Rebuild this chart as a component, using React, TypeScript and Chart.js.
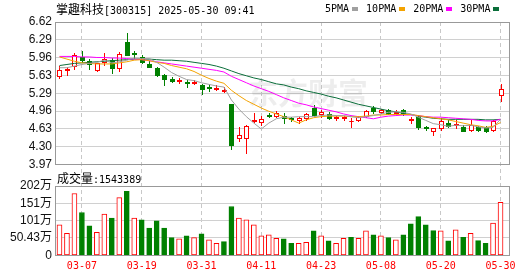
import React, { useEffect, useRef } from "react";
import { Chart, registerables } from "chart.js";

Chart.register(...registerables);

const dates = [
  "03-04", "03-05", "03-06", "03-07", "03-10", "03-11", "03-12", "03-13", "03-14", "03-17",
  "03-18", "03-19", "03-20", "03-21", "03-24", "03-25", "03-26", "03-27", "03-28", "03-31",
  "04-01", "04-02", "04-03", "04-07", "04-08", "04-09", "04-10", "04-11", "04-14", "04-15",
  "04-16", "04-17", "04-18", "04-21", "04-22", "04-23", "04-24", "04-25", "04-28", "04-29",
  "04-30", "05-06", "05-07", "05-08", "05-09", "05-12", "05-13", "05-14", "05-15", "05-16",
  "05-19", "05-20", "05-21", "05-22", "05-23", "05-26", "05-27", "05-28", "05-29", "05-30",
];

const openPrices = [
  5.61, 5.72, 5.80, 5.97, 5.90, 5.73, 5.88, 5.91, 5.77, 6.25,
  6.04, 5.97, 5.84, 5.76, 5.64, 5.56, 5.53, 5.51, 5.49, 5.45,
  5.41, 5.38, 5.33, 5.10, 4.46, 4.46, 4.78, 4.76, 4.89, 4.87,
  4.88, 4.83, 4.80, 4.84, 5.03, 4.90, 4.91, 4.83, 4.83, 4.77,
  4.80, 4.87, 5.03, 4.95, 4.98, 4.92, 4.99, 4.79, 4.86, 4.66,
  4.60, 4.64, 4.75, 4.70, 4.67, 4.61, 4.66, 4.66, 4.61, 5.27,
];
const highPrices = [
  5.80, 5.78, 6.05, 6.09, 5.93, 5.86, 6.04, 5.95, 6.07, 6.42,
  6.08, 6.00, 5.89, 5.78, 5.65, 5.59, 5.58, 5.54, 5.54, 5.46,
  5.44, 5.44, 5.41, 5.10, 4.67, 4.70, 4.93, 4.88, 4.92, 4.96,
  4.92, 4.86, 4.86, 4.92, 5.08, 4.98, 4.94, 4.87, 4.88, 4.83,
  4.88, 4.99, 5.06, 5.01, 5.00, 4.98, 5.01, 4.86, 4.89, 4.69,
  4.65, 4.83, 4.80, 4.80, 4.70, 4.79, 4.68, 4.68, 4.80, 5.46,
];
const lowPrices = [
  5.57, 5.64, 5.75, 5.88, 5.75, 5.70, 5.82, 5.68, 5.71, 6.00,
  5.95, 5.86, 5.78, 5.62, 5.44, 5.50, 5.49, 5.41, 5.47, 5.29,
  5.34, 5.35, 5.31, 4.26, 4.40, 4.19, 4.76, 4.71, 4.86, 4.86,
  4.75, 4.77, 4.74, 4.80, 4.88, 4.86, 4.81, 4.80, 4.80, 4.66,
  4.77, 4.86, 4.92, 4.92, 4.90, 4.89, 4.89, 4.74, 4.63, 4.62,
  4.52, 4.61, 4.66, 4.64, 4.59, 4.60, 4.60, 4.58, 4.60, 5.16,
];
const closePrices = [
  5.73, 5.74, 6.00, 5.92, 5.84, 5.85, 5.93, 5.77, 6.02, 6.01,
  6.02, 5.88, 5.78, 5.64, 5.56, 5.53, 5.55, 5.49, 5.51, 5.38,
  5.39, 5.40, 5.36, 4.34, 4.51, 4.69, 4.80, 4.81, 4.88, 4.92,
  4.84, 4.81, 4.84, 4.90, 4.89, 4.95, 4.84, 4.85, 4.86, 4.78,
  4.85, 4.97, 4.96, 4.98, 4.91, 4.95, 4.91, 4.81, 4.66, 4.65,
  4.64, 4.78, 4.69, 4.72, 4.60, 4.70, 4.62, 4.60, 4.78, 5.37,
];

const ma5 = [
  5.77, 5.77, 5.80, 5.83, 5.85, 5.87, 5.91, 5.86, 5.88, 5.91,
  5.95, 5.94, 5.94, 5.87, 5.78, 5.68, 5.61, 5.55, 5.53, 5.49,
  5.46, 5.43, 5.41, 5.17, 5.00, 4.86, 4.74, 4.63, 4.74, 4.82,
  4.85, 4.85, 4.86, 4.86, 4.86, 4.88, 4.89, 4.88, 4.88, 4.86,
  4.84, 4.86, 4.88, 4.91, 4.94, 4.95, 4.94, 4.91, 4.85, 4.79,
  4.73, 4.71, 4.68, 4.70, 4.69, 4.70, 4.67, 4.65, 4.66, 4.81,
];
const ma10 = [
  5.97, 5.93, 5.89, 5.86, 5.85, 5.84, 5.84, 5.84, 5.86, 5.88,
  5.91, 5.92, 5.90, 5.87, 5.85, 5.81, 5.78, 5.75, 5.70, 5.63,
  5.57, 5.52, 5.48, 5.35, 5.25, 5.16, 5.09, 5.02, 4.96, 4.91,
  4.86, 4.80, 4.74, 4.80, 4.84, 4.86, 4.87, 4.87, 4.87, 4.86,
  4.86, 4.87, 4.89, 4.89, 4.90, 4.90, 4.90, 4.90, 4.88, 4.86,
  4.84, 4.82, 4.80, 4.77, 4.74, 4.71, 4.69, 4.66, 4.68, 4.75,
];
const ma20 = [
  5.98, 5.98, 5.98, 5.97, 5.97, 5.96, 5.96, 5.95, 5.95, 5.94,
  5.93, 5.92, 5.90, 5.88, 5.86, 5.84, 5.82, 5.80, 5.78, 5.76,
  5.74, 5.72, 5.69, 5.61, 5.55, 5.49, 5.43, 5.38, 5.33, 5.27,
  5.21, 5.16, 5.11, 5.08, 5.04, 5.01, 4.98, 4.95, 4.91, 4.88,
  4.86, 4.84, 4.82, 4.85, 4.87, 4.88, 4.89, 4.89, 4.88, 4.86,
  4.85, 4.85, 4.84, 4.83, 4.82, 4.81, 4.79, 4.78, 4.78, 4.81,
];
const ma30 = [
  5.81, 5.83, 5.85, 5.86, 5.87, 5.88, 5.89, 5.90, 5.91, 5.92,
  5.93, 5.93, 5.93, 5.92, 5.91, 5.91, 5.90, 5.89, 5.87, 5.85,
  5.83, 5.80, 5.76, 5.71, 5.66, 5.62, 5.58, 5.55, 5.51, 5.47,
  5.45, 5.41, 5.38, 5.34, 5.31, 5.28, 5.24, 5.21, 5.17, 5.13,
  5.09, 5.06, 5.03, 5.00, 4.97, 4.95, 4.92, 4.90, 4.87, 4.85,
  4.83, 4.82, 4.81, 4.81, 4.81, 4.81, 4.81, 4.80, 4.80, 4.81,
];

const volumes = [
  886000, 643000, 1800000, 1245000, 857000, 672000, 1199000, 1082000, 1680000, 1860000,
  1082000, 1032000, 789000, 1003000, 789000, 515000, 477000, 564000, 515000, 623000,
  447000, 351000, 398000, 1420000, 1082000, 1032000, 886000, 564000, 593000, 497000,
  477000, 351000, 351000, 380000, 710000, 564000, 418000, 351000, 497000, 526000,
  497000, 710000, 593000, 564000, 515000, 447000, 593000, 915000, 1128000, 886000,
  719000, 710000, 418000, 740000, 526000, 643000, 427000, 351000, 936000, 1543389,
];

const priceTickValues = [3.97, 4.30125, 4.6325, 4.96375, 5.295, 5.62625, 5.9575, 6.28875, 6.62];
const priceTickLabels = ["3.97", "4.30", "4.63", "4.96", "5.29", "5.63", "5.96", "6.29", "6.62"];
const volumeTickValues = [0, 504300, 1008600, 1512900, 2017200];
const volumeTickLabels = ["0", "50.43万", "101万", "151万", "202万"];
const dateTickIndices = [3, 11, 19, 27, 35, 43, 51, 59];

const maLabels = ["5PMA", "10PMA", "20PMA", "30PMA"];
const maColors = ["#a0a0a0", "#f4a300", "#ff00ff", "#0a6e3a"];

const RED = "#ff0000";
const GREEN = "#008000";
const MONO = '"DejaVu Sans Mono", monospace';
const CJK = '"Noto Sans CJK SC", sans-serif';
const SANS = '"Liberation Sans", "Noto Sans CJK SC", sans-serif';

export default function App() {
  const canvasRef = useRef<HTMLCanvasElement>(null);

  useEffect(() => {
    const canvas = canvasRef.current;
    if (!canvas) return;
    const n = dates.length;
    const up = closePrices.map((c, i) => c > openPrices[i]);
    const volUp = closePrices.map((c, i) => (i === 0 ? up[0] : c > closePrices[i - 1]));
    const xy = (arr: number[]) => arr.map((y, i) => ({ x: i, y }));
    const align = (v: number) => Math.round(v - 0.5) + 0.5;

    const candlePlugin = {
      id: "candles",
      beforeDatasetsDraw(chart: any) {
        const { ctx } = chart;
        const xs = chart.scales.x;
        const ys = chart.scales.y;
        ctx.save();
        ctx.fillStyle = "rgba(0,0,0,0.07)";
        ctx.font = `bold 30px ${CJK}`;
        ctx.textBaseline = "alphabetic";
        ctx.fillText("东方财富", 248, 104);
        ctx.lineWidth = 1;
        for (let i = 0; i < n; i++) {
          const cx = Math.round(xs.getPixelForValue(i));
          const yh = Math.round(ys.getPixelForValue(highPrices[i]));
          const yl = Math.round(ys.getPixelForValue(lowPrices[i]));
          const yo = Math.round(ys.getPixelForValue(openPrices[i]));
          const yc = Math.round(ys.getPixelForValue(closePrices[i]));
          const top = Math.min(yo, yc);
          const bot = Math.max(yo, yc);
          const col = up[i] ? RED : GREEN;
          ctx.strokeStyle = col;
          ctx.beginPath();
          ctx.moveTo(cx + 0.5, yh);
          ctx.lineTo(cx + 0.5, yl + 1);
          ctx.stroke();
          if (up[i]) {
            ctx.fillStyle = "#fff";
            ctx.fillRect(cx - 2, top, 5, bot - top + 1);
            ctx.strokeRect(cx - 1.5, top + 0.5, 4, bot - top);
          } else {
            ctx.fillStyle = col;
            ctx.fillRect(cx - 2, top, 5, bot - top + 1);
          }
        }
        ctx.restore();
      },
    };

    const boxPlugin = {
      id: "boxes",
      afterDatasetsDraw(chart: any) {
        const { ctx, chartArea } = chart;
        const l = align(chartArea.left);
        const r = align(chartArea.right);
        ctx.save();
        ctx.strokeStyle = "#999";
        ctx.lineWidth = 1;
        for (const id of ["y", "yv"]) {
          const s = chart.scales[id];
          const t = align(s.top);
          const b = align(s.bottom);
          ctx.strokeRect(l, t, r - l, b - t);
        }
        ctx.restore();
      },
    };

    const lineSets = [ma5, ma10, ma20, ma30].map((arr, k) => ({
      type: "line" as const,
      label: maLabels[k],
      data: xy(arr),
      yAxisID: "y",
      borderColor: maColors[k],
      borderWidth: 1,
      pointRadius: 0,
      tension: 0,
      order: 1,
    }));

    const chart = new Chart(canvas, {
      type: "bar",
      data: {
        datasets: [
          ...lineSets,
          {
            type: "bar",
            label: "成交量",
            data: xy(volumes),
            yAxisID: "yv",
            backgroundColor: volUp.map((u) => (u ? "#ffffff" : GREEN)),
            borderColor: volUp.map((u) => (u ? RED : GREEN)),
            borderWidth: 1,
            borderSkipped: false,
            barThickness: 5,
            order: 2,
          },
        ] as any,
      },
      options: {
        animation: false,
        responsive: false,
        devicePixelRatio: 1,
        events: [],
        layout: { padding: { left: 0, right: 20.5, top: 22, bottom: 0.7 } },
        plugins: { legend: { display: false }, tooltip: { enabled: false } },
        scales: {
          x: {
            type: "linear",
            position: "bottom",
            min: -0.6,
            max: 60.2,
            bounds: "data",
            offset: false,
            afterBuildTicks: (s: any) => {
              s.ticks = dateTickIndices.map((v) => ({ value: v }));
            },
            afterFit: (s: any) => {
              s.height = 20;
            },
            ticks: {
              autoSkip: false,
              maxRotation: 0,
              padding: 5,
              color: RED,
              font: { family: MONO, size: 10 },
              callback: (v: any) => dates[v as number],
            },
            grid: { offset: false, color: "#c8c8c8", lineWidth: 1, drawTicks: false },
            border: { display: false, dash: [4, 3] },
          },
          y: {
            type: "linear",
            position: "left",
            stack: "k",
            stackWeight: 142.5,
            weight: 3,
            min: 3.97,
            max: 6.62,
            bounds: "data",
            afterBuildTicks: (s: any) => {
              s.ticks = priceTickValues.map((v) => ({ value: v }));
            },
            afterFit: (s: any) => {
              s.width = 55;
            },
            ticks: {
              autoSkip: false,
              padding: 3,
              color: "#111",
              font: { family: SANS, size: 12 },
              callback: (_v: any, i: number) => priceTickLabels[i],
            },
            grid: { color: "#d0d0d0", drawTicks: false },
            border: { display: false },
          },
          yg: {
            type: "linear",
            position: "left",
            stack: "k",
            stackWeight: 21.5,
            weight: 2,
            min: 0,
            max: 1,
            afterFit: (s: any) => {
              s.width = 55;
            },
            ticks: { display: false },
            grid: { display: false, drawTicks: false },
            border: { display: false },
          },
          yv: {
            type: "linear",
            position: "left",
            stack: "k",
            stackWeight: 69.3,
            weight: 1,
            min: 0,
            max: 2017200,
            bounds: "data",
            afterBuildTicks: (s: any) => {
              s.ticks = volumeTickValues.map((v) => ({ value: v }));
            },
            afterFit: (s: any) => {
              s.width = 55;
            },
            ticks: {
              autoSkip: false,
              padding: 3,
              color: "#111",
              font: { family: SANS, size: 12 },
              callback: (_v: any, i: number) => volumeTickLabels[i],
            },
            grid: { color: "#d0d0d0", drawTicks: false },
            border: { display: false },
          },
        } as any,
      },
      plugins: [candlePlugin, boxPlugin],
    });
    return () => chart.destroy();
  }, []);

  return (
    <div
      style={{
        position: "absolute",
        left: 0,
        top: 0,
        width: 530,
        height: 276,
        overflow: "hidden",
        background: "#fff",
      }}
    >
      <canvas ref={canvasRef} width={530} height={276} style={{ display: "block" }} />
      <div
        style={{
          position: "absolute",
          left: 56,
          top: 2,
          whiteSpace: "pre",
          fontFamily: MONO,
          fontSize: 10,
          lineHeight: "14px",
          color: "#000",
        }}
      >
        <span style={{ fontFamily: CJK, fontSize: 12 }}>掌趣科技</span>
        <span>[300315] 2025-05-30 09:41</span>
      </div>
      <div
        style={{
          position: "absolute",
          left: 325,
          top: 2,
          display: "flex",
          alignItems: "flex-start",
          whiteSpace: "pre",
          fontFamily: MONO,
          fontSize: 10,
          lineHeight: "14px",
          color: "#000",
        }}
      >
        {maLabels.map((lab, k) => (
          <div key={lab} style={{ display: "flex", alignItems: "flex-start", marginRight: 8 }}>
            <span>{lab}</span>
            <span
              style={{
                display: "inline-block",
                width: 6,
                height: 4,
                marginLeft: 3,
                marginTop: 5,
                background: maColors[k],
              }}
            />
          </div>
        ))}
      </div>
      <div
        style={{
          position: "absolute",
          left: 57,
          top: 171,
          whiteSpace: "pre",
          fontFamily: MONO,
          fontSize: 10,
          lineHeight: "14px",
          color: "#000",
        }}
      >
        <span style={{ fontFamily: CJK, fontSize: 12 }}>成交量</span>
        <span>:1543389</span>
      </div>
    </div>
  );
}
